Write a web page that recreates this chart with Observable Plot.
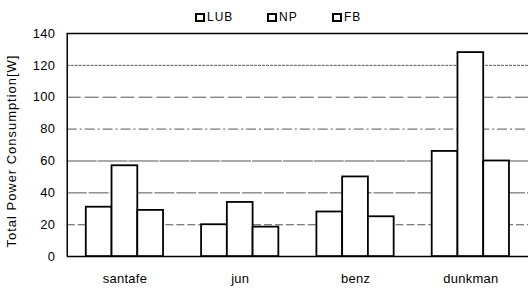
<!DOCTYPE html>
<html>
<head>
<meta charset="utf-8">
<script src="https://cdn.jsdelivr.net/npm/d3@7"></script>
<script src="https://cdn.jsdelivr.net/npm/@observablehq/plot@0.6"></script>
<style>
  html, body { margin: 0; padding: 0; background: #fff; overflow: hidden; width: 528px; height: 289px; }
  #legend { position: relative; height: 26px; font-family: "Liberation Sans", Arial, sans-serif; font-size: 12px; letter-spacing: 1px; color: #000; }
  .item { position: absolute; top: 11px; display: flex; align-items: center; line-height: 12px; }
  .box { box-sizing: border-box; width: 10px; height: 9px; border: 2px solid #000; background: #fff; margin-right: 2px; }
  #chart svg { display: block; }
  #chart svg text { letter-spacing: 0.3px; }
  #chart g[aria-label="y-axis label"] { translate: 0 6px; }
  #chart g[aria-label="y-axis label"] text { font-size: 13px; letter-spacing: 1px; }
</style>
</head>
<body>
<div id="legend"></div>
<div id="chart"></div>
<script>
const categories = ["santafe", "jun", "benz", "dunkman"];
const series = ["LUB", "NP", "FB"];
const LUB = [31, 20, 28, 66];
const NP = [57, 34, 50, 128];
const FB = [29, 18.5, 25, 60];
const yTicks = [0, 20, 40, 60, 80, 100, 120, 140];
const gridValues = [20, 40, 60, 80, 100, 120];
const gridDash = ["8,3", "20,2", "30,1", "10,3,2,3", "14,4", "3,1"];
const legendLeft = [195, 267, 332];

const seriesValues = {LUB, NP, FB};
const groupWidth = 0.67;
const barWidth = groupWidth / series.length;
const data = categories.flatMap((c, i) => series.map((s, j) => ({
  cat: c, s, v: seriesValues[s][i],
  x1: i - groupWidth / 2 + j * barWidth,
  x2: i - groupWidth / 2 + (j + 1) * barWidth
})));

const legend = document.getElementById("legend");
series.forEach((s, i) => {
  const el = document.createElement("div");
  el.className = "item";
  el.style.left = legendLeft[i] + "px";
  el.innerHTML = `<span class="box"></span><span>${s}</span>`;
  legend.appendChild(el);
});

const chart = Plot.plot({
  width: 530,
  height: 263,
  marginLeft: 67,
  marginRight: 0,
  marginTop: 7,
  marginBottom: 32,
  style: {fontFamily: "'Liberation Sans', Arial, sans-serif", fontSize: "13px", color: "#000", background: "#fff"},
  x: {type: "linear", domain: [-0.5, categories.length - 0.5]},
  y: {domain: [0, 140]},
  marks: [
    ...gridValues.map((g, i) => Plot.ruleY([g], {stroke: "#555", strokeWidth: 1, strokeDasharray: gridDash[i]})),
    Plot.ruleY([140], {stroke: "#000", strokeWidth: 1.5}),
    Plot.ruleX([-0.5], {stroke: "#000", strokeWidth: 1.5}),
    Plot.rectY(data, {x1: "x1", x2: "x2", y: "v", fill: "white", stroke: "black", strokeWidth: 1.8}),
    Plot.ruleY([0], {stroke: "#000", strokeWidth: 1.5}),
    Plot.axisY({ticks: yTicks, tickSize: 0, tickPadding: 12, label: "Total Power Consumption[W]", labelAnchor: "center", labelOffset: 61, labelArrow: "none", fontSize: 13}),
    Plot.axisX({ticks: d3.range(categories.length), tickFormat: i => categories[i], tickSize: 0, tickPadding: 17, label: null, fontSize: 13})
  ]
});
document.getElementById("chart").appendChild(chart);
</script>
</body>
</html>
